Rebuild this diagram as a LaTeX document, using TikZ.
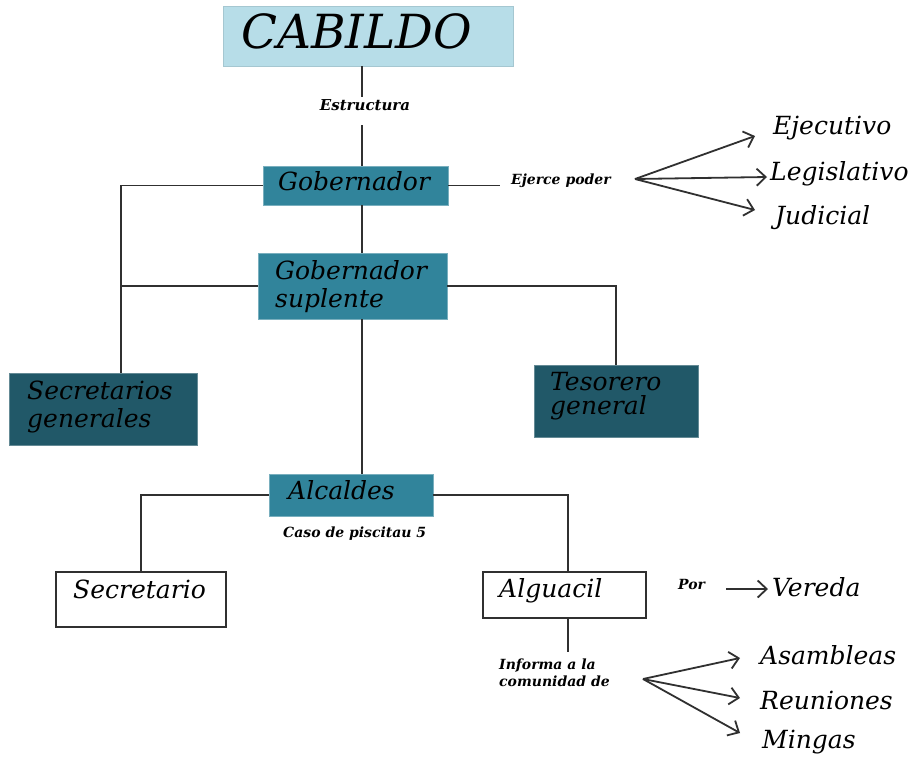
\documentclass[tikz,border=0pt]{standalone}
\usepackage{fontspec}
\setmainfont{DejaVu Serif}
\usetikzlibrary{arrows.meta,calc}
\definecolor{cabfill}{HTML}{B7DDE8}
\definecolor{tealbox}{HTML}{31849B}
\definecolor{darkbox}{HTML}{215868}
\definecolor{linec}{HTML}{303030}
\newcommand{\mainlab}{\fontsize{25}{28}\selectfont\itshape}
\newcommand{\tesolab}{\fontsize{25}{24}\selectfont\itshape}
\newcommand{\smalllab}{\fontsize{14}{17}\selectfont\bfseries\itshape}
\newcommand{\cablab}{\fontsize{47}{50}\selectfont\itshape}
\begin{document}
\begin{tikzpicture}[x=1pt,y=-1pt,
  conn/.style={draw=linec,line width=1.6pt},
  arr/.style={draw=linec,line width=1.8pt,-{Straight Barb[length=9pt,width=17pt]}},
  boxbase/.style={rectangle,inner sep=0pt,outer sep=0pt,anchor=north west},
  cabbox/.style={boxbase,fill=cabfill,draw=cabfill!90!black,line width=0.6pt},
  tealb/.style={boxbase,fill=tealbox,draw=tealbox!65!white,line width=0.8pt},
  darkb/.style={boxbase,fill=darkbox,draw=darkbox!70!white,line width=0.8pt},
  whiteb/.style={boxbase,fill=white,draw=linec,line width=1.6pt},
  lab/.style={inner sep=0pt,anchor=base west,font=\mainlab,text=black,align=left},
  small/.style={inner sep=0pt,anchor=base west,font=\smalllab,text=black,align=left}]
\useasboundingbox (0,0) rectangle (911,756);
\fill[white] (0,0) rectangle (911,756);

% boxes
\node[cabbox,minimum width=290pt,minimum height=60pt] (cab) at (223,6) {};
\node[tealb,minimum width=185pt,minimum height=39pt] (gob) at (263,166) {};
\node[tealb,minimum width=189pt,minimum height=66pt] (sup) at (258,253) {};
\node[darkb,minimum width=188pt,minimum height=72pt] (secg) at (9,373) {};
\node[darkb,minimum width=164pt,minimum height=72pt] (tes) at (534,365) {};
\node[tealb,minimum width=164pt,minimum height=42pt] (alc) at (269,474) {};
\node[whiteb,minimum width=170pt,minimum height=55pt] (secr) at (56,572) {};
\node[whiteb,minimum width=163pt,minimum height=46pt] (alg) at (483,572) {};

% box texts (base = baseline of last line)
\node[inner sep=0pt,anchor=base west,font=\cablab] (cabt) at (241,48) {CABILDO};
\node[lab] (gobt) at (278,190) {Gobernador};
\node[lab] (supt) at (275,307) {Gobernador\\suplente};
\node[lab] (secgt) at (27,427) {Secretarios\\generales};
\node[lab,font=\tesolab] (test) at (550,414) {Tesorero\\general};
\node[lab] (alct) at (288,499) {Alcaldes};
\node[lab] (secrt) at (73,598) {Secretario};
\node[lab] (algt) at (499,597) {Alguacil};

% free labels
\node[small,font=\fontsize{15}{17}\selectfont\bfseries\itshape,anchor=north,text height=9pt,text depth=11pt,inner ysep=4pt] (estr) at (365,97) {Estructura};
\node[small,inner xsep=11pt] (ejerce) at (500,184) {Ejerce poder};
\node[small] (caso) at (283,537) {Caso de piscitau 5};
\node[small] (por) at (678,589) {Por};
\node[small,anchor=north west,inner ysep=0pt] (informa) at (499,659) {Informa a la\\comunidad de};

% targets
\node[lab] (ejec) at (773,134) {Ejecutivo};
\node[lab] (legis) at (770,180) {Legislativo};
\node[lab] (jud) at (775,224) {Judicial};
\node[lab] (ver) at (772,596) {Vereda};
\node[lab] (asam) at (760,664) {Asambleas};
\node[lab] (reun) at (760,709) {Reuniones};
\node[lab] (ming) at (762,748) {Mingas};

% helper coordinates
\coordinate (sp) at (362,0);
\coordinate (lx) at (121,0);
\coordinate (rx) at (568,0);
\coordinate (fan1) at (635,179);
\coordinate (fan2) at (643,679);

% connectors
\draw[conn] (cab.south -| sp) -- (estr.north -| sp);
\draw[conn] (estr.south -| sp) -- (gob.north -| sp);
\draw[conn] (gob.south -| sp) -- (sup.north -| sp);
\draw[conn] (sup.south -| sp) -- (alc.north -| sp);
\draw[conn] (gob.west) -- (gob.west -| lx) -- (secg.north -| lx);
\draw[conn] (sup.west) -- (sup.west -| lx);
\draw[conn] (sup.east) -| (tes.north);
\draw[conn] (gob.east) -- (gob.east -| ejerce.west);
\draw[conn] (alc.west) -| (secr.north);
\draw[conn] (alc.east) -- (alc.east -| rx) -- (alg.north -| rx);
\draw[conn] (alg.south -| rx) -- ($(informa.north -| rx)+(0,-7)$);

% arrows
\draw[arr] (fan1) -- ($(ejec.base west)+(-18,2)$);
\draw[arr] (fan1) -- ($(legis.base west)+(-3,-3)$);
\draw[arr] (fan1) -- ($(jud.base west)+(-20,-14)$);
\draw[arr] ($(por.base east)+(21,0)$) -- ($(ver.base west)+(-4,-7)$);
\draw[arr] (fan2) -- ($(asam.base west)+(-20,-6)$);
\draw[arr] (fan2) -- ($(reun.base west)+(-20,-11)$);
\draw[arr] (fan2) -- ($(ming.base west)+(-22,-15)$);
\end{tikzpicture}
\end{document}
